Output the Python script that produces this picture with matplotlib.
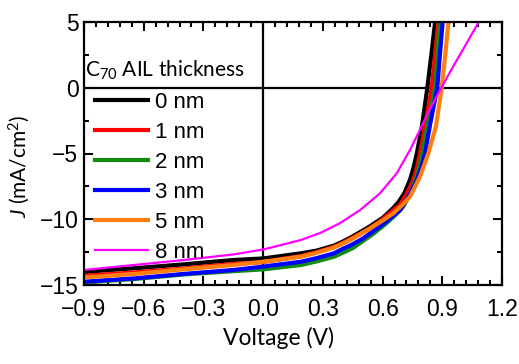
import matplotlib
matplotlib.use("Agg")
import matplotlib.pyplot as plt
from matplotlib.ticker import MultipleLocator

plt.rcParams['font.family'] = ['Liberation Sans', 'DejaVu Sans']
plt.rcParams['mathtext.fontset'] = 'custom'
plt.rcParams['mathtext.rm'] = 'Lato'
plt.rcParams['mathtext.it'] = 'Lato:italic'

# J-V curves (V in volts, J in mA/cm2)
labels = ['0 nm', '1 nm', '2 nm', '3 nm', '5 nm', '8 nm']
colors = ['#000000', '#ff0000', '#138a13', '#0000ff', '#ff7f0e', '#ff00ff']

v_0nm = [-0.9, -0.65, -0.4, -0.15, 0.0, 0.19, 0.27, 0.356, 0.40, 0.45, 0.53, 0.6,
         0.65, 0.68, 0.71, 0.738, 0.755, 0.772, 0.797, 0.825, 0.845, 0.864, 0.875]
j_0nm = [-14.0, -13.73, -13.43, -13.1, -12.98, -12.59, -12.38, -12.0, -11.7, -11.3,
         -10.6, -9.9, -9.2, -8.7, -8.0, -7.0, -6.1, -5.0, -3.0, 0.0, 2.5, 5.0, 6.5]

v_1nm = [-0.9, -0.65, -0.4, -0.15, 0.0, 0.19, 0.27, 0.356, 0.40, 0.45, 0.53, 0.6,
         0.65, 0.688, 0.72, 0.755, 0.772, 0.788, 0.815, 0.847, 0.864, 0.88, 0.89]
j_1nm = [-14.3, -14.05, -13.75, -13.4, -13.25, -12.8, -12.5, -12.1, -11.8, -11.4,
         -10.75, -10.0, -9.35, -8.9, -8.1, -7.0, -6.1, -5.0, -2.8, 0.0, 2.5, 5.0, 6.5]

v_2nm = [-0.9, -0.65, -0.4, -0.15, 0.0, 0.19, 0.27, 0.356, 0.40, 0.45, 0.554, 0.62,
         0.67, 0.704, 0.74, 0.77, 0.80, 0.83, 0.864, 0.876, 0.887, 0.895]
j_2nm = [-14.8, -14.55, -14.2, -13.95, -13.81, -13.48, -13.2, -12.85, -12.55, -12.2,
         -11.1, -10.3, -9.6, -9.04, -8.0, -6.8, -5.0, -2.5, 0.0, 2.5, 5.0, 6.5]

v_3nm = [-0.9, -0.65, -0.4, -0.15, 0.0, 0.19, 0.27, 0.356, 0.40, 0.45, 0.503, 0.6,
         0.688, 0.73, 0.772, 0.795, 0.813, 0.84, 0.875, 0.888, 0.902, 0.91]
j_3nm = [-14.75, -14.5, -14.16, -13.86, -13.6, -13.23, -12.95, -12.59, -12.25, -11.9,
         -11.45, -10.4, -9.3, -8.3, -7.02, -6.0, -5.0, -2.7, 0.0, 2.5, 5.0, 6.5]

v_5nm = [-0.9, -0.65, -0.4, -0.15, 0.0, 0.19, 0.27, 0.356, 0.40, 0.453, 0.537, 0.6,
         0.654, 0.70, 0.738, 0.788, 0.83, 0.868, 0.897, 0.915, 0.931, 0.94]
j_5nm = [-14.42, -14.16, -13.81, -13.48, -13.23, -12.85, -12.55, -12.15, -11.85, -11.45,
         -10.69, -10.1, -9.55, -8.9, -8.28, -6.76, -4.99, -2.96, 0.0, 2.5, 5.0, 6.5]

v_8nm = [-0.9, -0.649, -0.398, -0.146, 0.004, 0.189, 0.286, 0.386, 0.487, 0.587,
         0.671, 0.738, 0.788, 0.838, 0.895, 0.956, 1.023, 1.081, 1.1]
j_8nm = [-13.86, -13.48, -13.1, -12.67, -12.29, -11.58, -11.05, -10.3, -9.3, -8.03,
         -6.51, -4.73, -3.2, -1.6, 0.0, 1.65, 3.4, 4.95, 5.5]

voltages = [v_0nm, v_1nm, v_2nm, v_3nm, v_5nm, v_8nm]
currents = [j_0nm, j_1nm, j_2nm, j_3nm, j_5nm, j_8nm]
widths = [3, 3, 3, 3, 3, 1.6]

xticks = [-0.9, -0.6, -0.3, 0.0, 0.3, 0.6, 0.9, 1.2]
xticklabels = ['\u22120.9', '\u22120.6', '\u22120.3', '0.0', '0.3', '0.6', '0.9', '1.2']
yticks = [-15, -10, -5, 0, 5]
yticklabels = ['\u221215', '\u221210', '\u22125', '0', '5']

fig = plt.figure(figsize=(5.19, 3.64), dpi=100)
ax = fig.add_axes([84 / 519, 1 - 285 / 364, 418 / 519, 263 / 364])

ax.axhline(0, color='k', lw=1.6, zorder=1)
ax.axvline(0, color='k', lw=1.6, zorder=1)

for v, j, c, lab, w in zip(voltages, currents, colors, labels, widths):
    ax.plot(v, j, color=c, lw=w, label=lab, zorder=2)

ax.set_xlim(-0.9, 1.2)
ax.set_ylim(-15, 5)
ax.set_xticks(xticks)
ax.set_xticklabels(xticklabels)
ax.set_yticks(yticks)
ax.set_yticklabels(yticklabels)
ax.xaxis.set_minor_locator(MultipleLocator(0.06))
ax.yaxis.set_minor_locator(MultipleLocator(2.5))
ax.tick_params(which='both', direction='in', top=True, right=True, width=1.5)
ax.tick_params(which='major', length=6.5, labelsize=16.5)
ax.tick_params(axis='x', which='major', pad=9)
ax.tick_params(axis='y', which='major', pad=4)
ax.tick_params(which='minor', length=3.5)
for s in ax.spines.values():
    s.set_linewidth(1.6)

ax.set_xlabel('Voltage (V)', fontsize=16.5, family='Lato')
ax.set_ylabel('$J$ (mA/cm$^2$)', fontsize=15, family='Lato')
ax.xaxis.set_label_coords(0.466, -0.16)
ax.yaxis.set_label_coords(-0.125, 0.45)

ax.text(0.003, 0.792, 'C$_{70}$ AIL thickness', transform=ax.transAxes,
        fontsize=15, family='Lato', va='baseline', ha='left')
ax.legend(loc='upper left', bbox_to_anchor=(0.026, 0.733), frameon=False,
          fontsize=16, borderpad=0, borderaxespad=0, handlelength=2.4,
          handletextpad=0.3, labelspacing=0.40)

fig.savefig('out.png', dpi=100)
